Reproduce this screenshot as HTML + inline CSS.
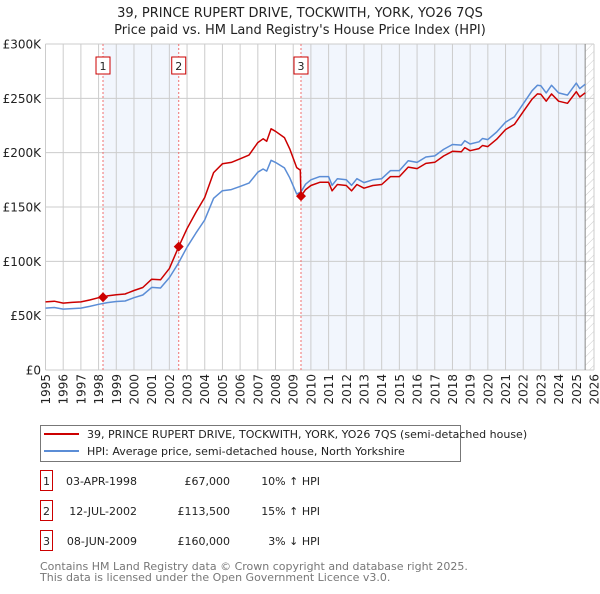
<!DOCTYPE html>
<html><head><meta charset="utf-8"><style>
body{margin:0;background:#fff;width:600px;height:590px;overflow:hidden;font-family:"DejaVu Sans","Liberation Sans",sans-serif;}
svg text{font-family:"DejaVu Sans","Liberation Sans",sans-serif;}
</style></head><body>
<svg id="chart" width="600" height="590" xmlns="http://www.w3.org/2000/svg">
<defs><pattern id="hatch" width="6" height="6" patternUnits="userSpaceOnUse" patternTransform="rotate(45)"><line x1="0" y1="0" x2="0" y2="6" stroke="#ccc" stroke-width="1"/></pattern></defs>
<text x="300" y="17" text-anchor="middle" font-size="13" fill="#222">39, PRINCE RUPERT DRIVE, TOCKWITH, YORK, YO26 7QS</text>
<text x="300" y="34" text-anchor="middle" font-size="13" fill="#222">Price paid vs. HM Land Registry's House Price Index (HPI)</text>
<g id="plot"></g>
<g>
<rect x="40.5" y="425.5" width="420" height="36" fill="#fff" stroke="#777"/>
<line x1="44" y1="434" x2="79" y2="434" stroke="#cc0000" stroke-width="2"/>
<text x="87" y="438" font-size="11" fill="#222">39, PRINCE RUPERT DRIVE, TOCKWITH, YORK, YO26 7QS (semi-detached house)</text>
<line x1="44" y1="451" x2="79" y2="451" stroke="#5b8dd6" stroke-width="2"/>
<text x="87" y="455" font-size="11" fill="#222">HPI: Average price, semi-detached house, North Yorkshire</text>
</g>
<g id="table" font-size="11" fill="#222"></g>
<text x="40" y="570" font-size="11" fill="#777">Contains HM Land Registry data © Crown copyright and database right 2025.</text>
<text x="40" y="581" font-size="11" fill="#777">This data is licensed under the Open Government Licence v3.0.</text>
</svg>
<script>
const yearTicks=[1995,1996,1997,1998,1999,2000,2001,2002,2003,2004,2005,2006,2007,2008,2009,2010,2011,2012,2013,2014,2015,2016,2017,2018,2019,2020,2021,2022,2023,2024,2025,2026];
const valueTicks=[0,50,100,150,200,250,300];
const valueTickLabels=["£0","£50K","£100K","£150K","£200K","£250K","£300K"];
const hpiYears=[1995,1995.5,1996,1996.5,1997,1997.5,1998,1998.5,1999,1999.5,2000,2000.5,2001,2001.5,2002,2002.5,2003,2003.5,2004,2004.5,2005,2005.5,2006,2006.5,2007,2007.3,2007.5,2007.75,2008,2008.5,2008.8,2009.2,2009.44,2009.7,2010,2010.5,2011,2011.2,2011.5,2012,2012.3,2012.6,2013,2013.5,2014,2014.5,2015,2015.5,2016,2016.5,2017,2017.5,2018,2018.5,2018.7,2019,2019.5,2019.7,2020,2020.5,2021,2021.5,2022,2022.5,2022.8,2023,2023.3,2023.6,2024,2024.5,2025,2025.2,2025.5];
const hpiValues=[57,57.5,56,56.5,57,58.5,60.5,62,63,63.5,66.5,69,76,75.5,85,98,113,126,138,158,165,166,169,172,182,185,183,193,191,186,177,162,164,171,175,178,178,170,176,175,170,176,172.5,175,176,183.5,183.5,192.5,191,196,197,203,207.5,207,211,208,210,213,212,219,228,233,245,257,262,261.5,255,262,255,253,264,259,263];
const propYears=[1995,1995.5,1996,1996.5,1997,1997.5,1998,1998.25,1998.5,1999,1999.5,2000,2000.5,2001,2001.5,2002,2002.53,2003,2003.5,2004,2004.5,2005,2005.5,2006,2006.5,2007,2007.3,2007.5,2007.75,2008,2008.5,2008.8,2009.2,2009.4,2009.44,2009.7,2010,2010.5,2011,2011.2,2011.5,2012,2012.3,2012.6,2013,2013.5,2014,2014.5,2015,2015.5,2016,2016.5,2017,2017.5,2018,2018.5,2018.7,2019,2019.5,2019.7,2020,2020.5,2021,2021.5,2022,2022.5,2022.8,2023,2023.3,2023.6,2024,2024.5,2025,2025.2,2025.5];
const propValues=[62.7,63.3,61.6,62.2,62.7,64.4,66.5,67,68.2,69.3,69.9,73.2,75.9,83.6,83,93.5,113.5,130,145,158.7,181.7,189.8,191,194.4,197.8,209.3,212.8,210.5,222,219.7,213.9,203.6,186.3,184,160,166,169.8,172.7,172.7,164.9,170.7,169.8,164.9,170.7,167.3,169.8,170.7,178,178,186.7,185.3,190.1,191.1,196.9,201.3,200.8,204.7,201.8,203.7,206.6,205.6,212.4,221.2,226,237.7,249.3,254.1,253.7,247.4,254.1,247.4,245.4,256.1,251.2,255.1];
const saleYears=[1998.25,2002.53,2009.44];
const saleValues=[67,113.5,160];
const saleLabels=["1","2","3"];
const saleDates=["03-APR-1998","12-JUL-2002","08-JUN-2009"];
const salePrices=["£67,000","£113,500","£160,000"];
const saleHpi=["10% ↑ HPI","15% ↑ HPI","3% ↓ HPI"];
const dataEnd=2025.5;

const NS="http://www.w3.org/2000/svg";
const X0=45.5,X1=594,Y0=370,Y1=44;
const xs=y=>X0+(y-1995)/(2026-1995)*(X1-X0);
const ys=v=>Y0-v/300*(Y0-Y1);
function mk(tag,attrs,parent){const e=document.createElementNS(NS,tag);for(const k in attrs)e.setAttribute(k,attrs[k]);parent.appendChild(e);return e;}
const g=document.getElementById('plot');
let r;
r=mk('rect',{x:xs(saleYears[0]),y:Y1,width:xs(saleYears[1])-xs(saleYears[0]),height:Y0-Y1,fill:'#f2f6fd'},g);


r=mk('rect',{x:xs(saleYears[2]),y:Y1,width:xs(dataEnd)-xs(saleYears[2]),height:Y0-Y1,fill:'#f2f6fd'},g);


r=mk('rect',{x:xs(dataEnd),y:Y1,width:X1-xs(dataEnd),height:Y0-Y1,fill:'url(#hatch)'},g);


yearTicks.forEach(y=>{
  const l=mk('line',{x1:xs(y),x2:xs(y),y1:Y1,y2:Y0,stroke:'#ccc','stroke-width':1},g);
  
  
  const t=mk('text',{x:0,y:0,'font-size':12,fill:'#222','text-anchor':'end',transform:`translate(${xs(y)+4.5},374) rotate(-90)`},g);
  t.textContent=y;
  
  
});
valueTicks.forEach((v,i)=>{
  const l=mk('line',{x1:X0,x2:X1,y1:ys(v),y2:ys(v),stroke:'#ccc','stroke-width':1},g);
  
  
  const t=mk('text',{x:41,y:ys(v)+4.5,'font-size':12,fill:'#222','text-anchor':'end'},g);
  t.textContent=valueTickLabels[i];
  
  
});
r=mk('line',{x1:xs(dataEnd),x2:xs(dataEnd),y1:Y1,y2:Y0,stroke:'#888','stroke-width':1},g);


saleYears.forEach((y,i)=>{
  const l=mk('line',{x1:xs(y),x2:xs(y),y1:Y1,y2:Y0,stroke:'#f07070','stroke-width':1,'stroke-dasharray':'2,2'},g);
  
  
  const b=mk('rect',{x:xs(y)-7,y:57,width:14,height:17,fill:'#fff',stroke:'#cc0000'},g);
  
  
  const t=mk('text',{x:xs(y),y:70,'font-size':11,fill:'#222','text-anchor':'middle'},g);
  t.textContent=saleLabels[i];
  
  
});
function path(xa,va,color,name){
  const d=xa.map((y,i)=>(i?'L':'M')+xs(y).toFixed(1)+','+ys(va[i]).toFixed(1)).join('');
  const p=mk('path',{d:d,fill:'none',stroke:color,'stroke-width':1.5,'stroke-linejoin':'round'},g);
  
  
}
path(hpiYears,hpiValues,'#5b8dd6','hpi-line');
path(propYears,propValues,'#cc0000','property-price-line');
saleYears.forEach((y,i)=>{
  const cx=xs(y),cy=ys(saleValues[i]);
  const p=mk('path',{d:`M${cx},${cy-5}L${cx+5},${cy}L${cx},${cy+5}L${cx-5},${cy}Z`,fill:'#cc0000'},g);
  
  
});
const tb=document.getElementById('table');
saleYears.forEach((y,i)=>{
  const yy=483+i*30;
  const b=mk('rect',{x:40.5,y:yy-12.5,width:12,height:20,fill:'#fff',stroke:'#cc0000'},tb);
  
  
  const cells=[[46.5,saleLabels[i],'middle'],[137,saleDates[i],'end'],[230,salePrices[i],'end'],[320,saleHpi[i],'end']];
  cells.forEach(c=>{
    const t=mk('text',{x:c[0],y:yy+2,'text-anchor':c[2]},tb);
    t.textContent=c[1];
    
    
  });
});
</script>
</body></html>
